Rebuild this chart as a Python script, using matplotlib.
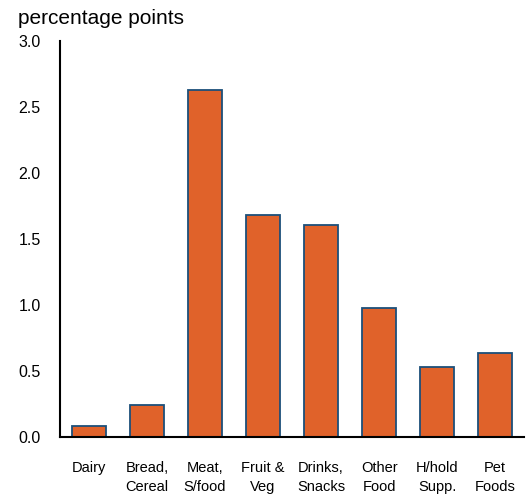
import matplotlib
matplotlib.use('Agg')
import matplotlib.pyplot as plt
import numpy as np

plt.rc('font', family=['Liberation Sans', 'DejaVu Sans'], size=10.5)

categories = ['Dairy', 'Bread,\nCereal', 'Meat,\nS/food', 'Fruit &\nVeg', 'Drinks,\nSnacks',
              'Other\nFood', 'H/hold\nSupp.', 'Pet\nFoods']
values = [0.08, 0.24, 2.63, 1.68, 1.61, 0.98, 0.53, 0.64]
yticks = [0.0, 0.5, 1.0, 1.5, 2.0, 2.5, 3.0]

fig = plt.figure(figsize=(5.31, 4.96), dpi=100)
ax = fig.add_axes([0.113, 0.119, 0.874, 0.798])

x = np.arange(len(categories))
ax.bar(x, values, width=0.59, color='#E0622A', edgecolor='#1B4F7A', linewidth=1.3)

ax.set_xlim(-0.5, len(categories) - 0.5)
ax.set_ylim(0, 3.0)
ax.set_yticks(yticks)
ax.set_yticklabels(['%.1f' % t for t in yticks])
ax.set_xticks(x)
ax.set_xticklabels(categories, linespacing=1.5)
ax.tick_params(axis='y', length=0, pad=14, labelsize=11.5)
ax.tick_params(axis='x', length=0, pad=17, labelsize=10.5)

for s in ['top', 'right']:
    ax.spines[s].set_visible(False)
for s in ['left', 'bottom']:
    ax.spines[s].set_linewidth(1.5)

fig.text(0.034, 0.962, 'percentage points', fontsize=15, va='center', ha='left')

fig.savefig('out.png', dpi=100)
